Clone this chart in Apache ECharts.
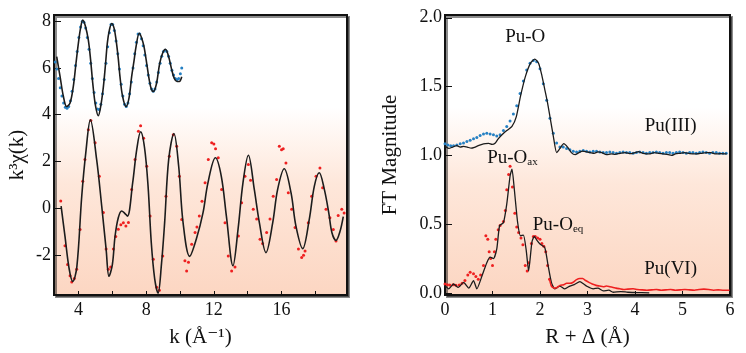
<!DOCTYPE html>
<html>
<head>
<meta charset="utf-8">
<script src="https://cdn.jsdelivr.net/npm/echarts@6/dist/echarts.min.js"></script>
<style>
  html, body { margin: 0; padding: 0; background: #fff; }
  #chart { width: 746px; height: 353px; }
</style>
</head>
<body>
<div id="chart"></div>
<script>
// ---- left panel: k^3 chi(k) ----
// Pu(III) fit (plotted with +6 offset)
const pu3FitK = [2.71, 2.91, 3.1, 3.3, 3.5, 3.69, 3.85, 3.99, 4.12, 4.25, 4.4, 4.58, 4.72, 4.84, 5.0, 5.17, 5.32, 5.47, 5.6, 5.7, 5.82, 5.96, 6.1, 6.22, 6.35, 6.45, 6.6, 6.81, 6.98, 7.14, 7.28, 7.4, 7.59, 7.72, 7.87, 8.05, 8.18, 8.3, 8.42, 8.6, 8.8, 8.98, 9.14, 9.32, 9.5, 9.66, 9.82, 9.96, 10.1];
const pu3FitV = [6.48, 5.63, 4.8, 4.35, 4.5, 5.2, 6.2, 7.05, 7.7, 8.04, 7.8, 7.19, 6.3, 5.35, 4.4, 3.96, 4.4, 5.2, 6.2, 7.05, 7.6, 7.9, 7.7, 7.19, 6.4, 5.63, 4.8, 4.35, 4.7, 5.63, 6.3, 6.91, 7.48, 7.3, 6.91, 6.1, 5.49, 5.1, 4.99, 5.3, 6.2, 6.65, 6.8, 6.5, 5.95, 5.55, 5.42, 5.42, 5.62];
// Pu(III) data points
const pu3DatK = [2.62, 2.72, 2.82, 2.92, 3.02, 3.12, 3.22, 3.32, 3.42, 3.52, 3.62, 3.72, 3.82, 3.92, 4.02, 4.12, 4.22, 4.32, 4.42, 4.52, 4.62, 4.72, 4.82, 4.92, 5.02, 5.12, 5.22, 5.32, 5.42, 5.52, 5.62, 5.72, 5.82, 5.92, 6.02, 6.12, 6.22, 6.32, 6.42, 6.52, 6.62, 6.72, 6.82, 6.92, 7.02, 7.12, 7.22, 7.32, 7.42, 7.52, 7.62, 7.72, 7.82, 7.92, 8.02, 8.12, 8.22, 8.32, 8.42, 8.52, 8.62, 8.72, 8.82, 8.92, 9.02, 9.12, 9.22, 9.32, 9.42, 9.52, 9.62, 9.72, 9.82, 9.92, 10.02, 10.1];
const pu3DatV = [6.25, 5.95, 5.55, 5.15, 4.8, 4.5, 4.32, 4.28, 4.35, 4.6, 5.0, 5.5, 6.1, 6.7, 7.3, 7.75, 7.98, 7.95, 7.7, 7.3, 6.8, 6.2, 5.55, 4.95, 4.5, 4.25, 4.22, 4.45, 4.9, 5.5, 6.2, 6.9, 7.5, 7.85, 7.85, 7.6, 7.15, 6.6, 5.95, 5.3, 4.8, 4.45, 4.35, 4.5, 4.9, 5.4, 6.0, 6.6, 7.1, 7.45, 7.45, 7.25, 6.95, 6.55, 6.1, 5.7, 5.35, 5.1, 5.0, 5.1, 5.4, 5.8, 6.2, 6.5, 6.7, 6.75, 6.7, 6.5, 6.2, 5.9, 5.7, 5.55, 5.5, 5.55, 5.75, 6.0];
// Pu(VI) fit
const pu6FitK = [2.97, 3.2, 3.45, 3.66, 3.9, 4.19, 4.43, 4.7, 5.07, 5.37, 5.63, 5.8, 6.0, 6.16, 6.35, 6.55, 6.72, 6.89, 7.2, 7.44, 7.67, 7.9, 8.11, 8.3, 8.5, 8.7, 8.9, 9.09, 9.33, 9.64, 9.92, 10.18, 10.57, 10.96, 11.36, 11.65, 12.09, 12.44, 12.74, 13.13, 13.43, 13.72, 14.04, 14.39, 14.69, 15.08, 15.48, 15.77, 16.16, 16.56, 16.85, 17.25, 17.64, 17.94, 18.23, 18.53, 18.79, 18.98, 19.22, 19.45, 19.65];
const pu6FitV = [0.1, -1.2, -2.6, -3.12, -2.5, 0.52, 2.38, 3.78, 2.09, 0.1, -1.74, -2.9, -2.4, -1.18, -0.4, -0.11, -0.2, -0.33, 1.09, 2.51, 3.27, 2.6, 0.95, -1.46, -3.0, -3.62, -2.4, -0.61, 2.09, 3.2, 1.8, -0.61, -2.05, -1.32, -0.18, 1.09, 2.16, 1.37, -0.33, -2.45, -0.89, 1.09, 2.27, 0.81, -0.61, -1.89, -0.61, 0.81, 1.69, 0.67, -0.75, -1.72, -0.47, 0.95, 1.52, 0.81, -0.18, -1.04, -1.37, -1.0, -0.35];
// Pu(VI) data points
const pu6DatK = [2.95, 3.2, 3.35, 3.5, 3.6, 3.75, 3.89, 4.09, 4.25, 4.38, 4.58, 4.73, 4.98, 5.23, 5.47, 5.63, 5.76, 5.9, 6.06, 6.2, 6.35, 6.5, 6.65, 6.8, 6.95, 7.14, 7.34, 7.54, 7.67, 7.85, 8.03, 8.23, 8.42, 8.62, 8.78, 8.98, 9.17, 9.37, 9.6, 9.8, 9.96, 10.1, 10.29, 10.39, 10.5, 10.69, 10.89, 11.0, 11.14, 11.3, 11.48, 11.67, 11.87, 12.0, 12.1, 12.26, 12.46, 12.66, 12.85, 13.05, 13.25, 13.45, 13.64, 13.84, 14.04, 14.17, 14.33, 14.53, 14.73, 14.88, 15.12, 15.32, 15.51, 15.71, 15.87, 16.0, 16.1, 16.26, 16.4, 16.6, 16.8, 17.0, 17.19, 17.3, 17.39, 17.58, 17.78, 18.04, 18.27, 18.43, 18.63, 18.86, 19.06, 19.22, 19.35, 19.56, 19.7];
const pu6DatV = [0.31, -1.6, -2.4, -2.88, -3.15, -3.0, -2.6, -0.9, 1.16, 2.09, 3.36, 3.75, 2.8, 1.37, -0.18, -1.74, -2.6, -2.5, -1.74, -1.2, -0.89, -0.7, -0.61, -0.75, -0.6, 0.81, 2.09, 3.29, 3.53, 3.0, 1.8, -0.33, -2.17, -3.37, -3.5, -2.03, 0.52, 2.23, 3.15, 2.65, 1.37, -0.47, -2.24, -2.67, -2.3, -1.53, -1.03, -0.8, -0.33, 0.3, 1.09, 2.09, 2.8, 2.75, 2.55, 2.16, 0.81, -0.61, -2.03, -2.67, -2.5, -1.18, 0.24, 1.37, 1.87, 1.2, -0.04, -0.45, -1.32, -1.5, -1.03, -0.45, 0.52, 1.23, 2.65, 2.5, 2.55, 1.94, 0.67, -0.04, -0.82, -1.74, -2.1, -2.0, -1.82, -0.61, 0.52, 1.37, 1.73, 0.88, -0.04, -0.4, -0.9, -1.39, -0.3, -0.04, -0.2];

// ---- right panel: FT magnitude ----
const pu3FtFitR = [0, 0.08, 0.16, 0.25, 0.32, 0.39, 0.47, 0.55, 0.62, 0.7, 0.78, 0.85, 0.92, 0.99, 1.06, 1.12, 1.2, 1.3, 1.41, 1.5, 1.59, 1.69, 1.8, 1.89, 1.97, 2.04, 2.1, 2.16, 2.21, 2.28, 2.35, 2.42, 2.5, 2.58, 2.66, 2.74, 2.82, 2.9, 2.98, 3.06, 3.14, 3.22, 3.3, 3.4, 3.5, 3.58, 3.68, 3.8, 3.9, 4.0, 4.07, 4.17, 4.3, 4.4, 4.5, 4.6, 4.7, 4.77, 4.85, 4.95, 5.04, 5.15, 5.3, 5.4, 5.5, 5.6, 5.7, 5.8, 5.93];
const pu3FtFitV = [1.067, 1.05, 1.06, 1.07, 1.06, 1.065, 1.06, 1.052, 1.058, 1.07, 1.08, 1.085, 1.087, 1.08, 1.09, 1.12, 1.15, 1.18, 1.21, 1.28, 1.43, 1.57, 1.67, 1.7, 1.67, 1.58, 1.48, 1.38, 1.28, 1.14, 1.02, 1.05, 1.085, 1.06, 1.02, 1.005, 1.02, 1.03, 1.025, 1.02, 1.015, 1.025, 1.02, 1.005, 1.01, 1.007, 1.015, 1.02, 1.012, 1.02, 1.027, 1.015, 1.01, 1.02, 1.015, 1.01, 1.005, 1.0, 1.01, 1.015, 1.02, 1.012, 1.01, 1.015, 1.02, 1.02, 1.01, 1.012, 1.01];
const pu3FtDatR = [0.0, 0.06, 0.12, 0.18, 0.25, 0.32, 0.39, 0.46, 0.53, 0.6, 0.67, 0.74, 0.81, 0.88, 0.95, 1.02, 1.09, 1.16, 1.23, 1.3, 1.37, 1.44, 1.51, 1.58, 1.65, 1.72, 1.79, 1.86, 1.93, 2.0, 2.07, 2.14, 2.21, 2.28, 2.35, 2.42, 2.49, 2.56, 2.63, 2.7, 2.77, 2.84, 2.91, 2.98, 3.05, 3.12, 3.19, 3.26, 3.33, 3.4, 3.47, 3.54, 3.61, 3.68, 3.75, 3.82, 3.89, 3.96, 4.03, 4.1, 4.17, 4.24, 4.31, 4.38, 4.45, 4.52, 4.59, 4.66, 4.73, 4.8, 4.87, 4.94, 5.01, 5.08, 5.15, 5.22, 5.29, 5.36, 5.43, 5.5, 5.57, 5.64, 5.71, 5.78, 5.85, 5.92];
const pu3FtDatV = [1.085, 1.075, 1.07, 1.07, 1.075, 1.085, 1.09, 1.1, 1.11, 1.12, 1.13, 1.145, 1.155, 1.16, 1.155, 1.15, 1.14, 1.15, 1.18, 1.21, 1.25, 1.3, 1.36, 1.45, 1.54, 1.62, 1.67, 1.69, 1.68, 1.63, 1.52, 1.4, 1.27, 1.16, 1.09, 1.06, 1.06, 1.05, 1.04, 1.03, 1.025, 1.03, 1.035, 1.03, 1.025, 1.03, 1.03, 1.025, 1.02, 1.02, 1.025, 1.02, 1.015, 1.02, 1.025, 1.02, 1.02, 1.015, 1.02, 1.025, 1.02, 1.015, 1.02, 1.02, 1.025, 1.02, 1.015, 1.02, 1.02, 1.015, 1.02, 1.025, 1.02, 1.015, 1.02, 1.02, 1.015, 1.02, 1.025, 1.02, 1.015, 1.02, 1.02, 1.015, 1.015, 1.015];
const pu6FtFitR = [0, 0.08, 0.18, 0.28, 0.39, 0.5, 0.6, 0.67, 0.78, 0.88, 0.95, 1.02, 1.09, 1.15, 1.23, 1.3, 1.37, 1.41, 1.46, 1.53, 1.59, 1.65, 1.71, 1.76, 1.83, 1.88, 1.94, 2.0, 2.1, 2.17, 2.24, 2.31, 2.42, 2.52, 2.63, 2.72, 2.84, 2.92, 2.98, 3.12, 3.22, 3.33, 3.45, 3.54, 3.7, 3.85, 4.0, 4.3];
const pu6FtFitV = [0.053, 0.03, 0.065, 0.04, 0.077, 0.035, 0.09, 0.03, 0.125, 0.22, 0.26, 0.25, 0.32, 0.49, 0.51, 0.645, 0.85, 0.9, 0.75, 0.51, 0.415, 0.42, 0.31, 0.16, 0.37, 0.41, 0.38, 0.355, 0.33, 0.2, 0.077, 0.03, 0.05, 0.03, 0.05, 0.06, 0.082, 0.065, 0.05, 0.03, 0.035, 0.015, 0.02, 0.005, 0.01, 0.005, 0.003, 0.0];
const pu6FtDatR = [0.0, 0.05, 0.1, 0.17, 0.23, 0.3, 0.36, 0.42, 0.48, 0.53, 0.6, 0.65, 0.7, 0.75, 0.81, 0.86, 0.9, 0.93, 0.96, 1.0, 1.04, 1.07, 1.12, 1.16, 1.23, 1.27, 1.3, 1.34, 1.37, 1.42, 1.47, 1.51, 1.55, 1.6, 1.64, 1.69, 1.73, 1.76, 1.82, 1.86, 1.9, 1.95, 2.0, 2.04, 2.08, 2.12, 2.16, 2.2];
const pu6FtDatV = [0.065, 0.06, 0.058, 0.06, 0.055, 0.058, 0.07, 0.09, 0.13, 0.15, 0.14, 0.12, 0.1, 0.13, 0.2, 0.415, 0.39, 0.3, 0.25, 0.2, 0.3, 0.39, 0.46, 0.49, 0.52, 0.6, 0.75, 0.86, 0.92, 0.77, 0.58, 0.48, 0.44, 0.4, 0.35, 0.2, 0.16, 0.22, 0.36, 0.41, 0.41, 0.4, 0.39, 0.36, 0.34, 0.3, 0.2, 0.1];
const pu6FtTailR = [2.2, 2.24, 2.3, 2.36, 2.42, 2.5, 2.56, 2.63, 2.7, 2.76, 2.84, 2.9, 2.96, 3.04, 3.1, 3.18, 3.26, 3.33, 3.4, 3.47, 3.54, 3.6, 3.68, 3.76, 3.85, 3.96, 4.05, 4.15, 4.25, 4.35, 4.45, 4.55, 4.65, 4.75, 4.85, 4.95, 5.05, 5.15, 5.25, 5.35, 5.45, 5.55, 5.65, 5.75, 5.85, 5.99];
const pu6FtTailV = [0.1, 0.05, 0.035, 0.04, 0.055, 0.06, 0.07, 0.07, 0.078, 0.095, 0.105, 0.105, 0.09, 0.075, 0.065, 0.055, 0.05, 0.045, 0.05, 0.045, 0.04, 0.035, 0.03, 0.025, 0.028, 0.03, 0.025, 0.022, 0.02, 0.022, 0.025, 0.02, 0.022, 0.025, 0.02, 0.022, 0.025, 0.022, 0.02, 0.025, 0.028, 0.025, 0.02, 0.022, 0.02, 0.02];

// annotations in the FT panel
const noteText = ['{m|Pu-O}', '{m|Pu(III)}', '{m|Pu-O}{s|ax}', '{m|Pu-O}{s|eq}', '{m|Pu(VI)}'];
const noteR = [1.69, 4.75, 1.42, 2.38, 4.75];
const noteV = [1.86, 1.22, 0.985, 0.5, 0.174];

const kTicks = [4, 6, 8, 10, 12, 14, 16, 18];
const kLabels = [4, 8, 12, 16];
const chiTicks = [-2, 0, 2, 4, 6, 8];
const ftTicks = [0, 0.5, 1, 1.5, 2];

const serif = '"Liberation Serif", "DejaVu Serif", serif';
const zip = (a, b) => a.map((v, i) => [v, b[i]]);

const chart = echarts.init(document.getElementById('chart'));

const bg = new echarts.graphic.LinearGradient(0, 0, 0, 1, [
  { offset: 0, color: '#ffffff' },
  { offset: 0.33, color: '#ffffff' },
  { offset: 0.6, color: '#fee7da' },
  { offset: 1, color: '#fcd6c2' },
]);

const gridBase = {
  show: true,
  top: 15,
  height: 281,
  borderColor: '#111',
  borderWidth: 2,
  backgroundColor: bg,
  shadowColor: 'rgba(0,0,0,0.45)',
  shadowOffsetX: 2,
  shadowOffsetY: 2,
};

const axisCommon = {
  type: 'value',
  splitLine: { show: false },
  axisLine: { show: true, onZero: false, lineStyle: { color: '#111', width: 2 } },
  axisLabel: { fontFamily: serif, fontSize: 18, color: '#111' },
  nameLocation: 'middle',
  nameTextStyle: { fontFamily: serif, fontSize: 21, color: '#111' },
};

const lineSeries = (x, y, k, v, color, width) => ({
  type: 'line',
  xAxisIndex: x,
  yAxisIndex: y,
  data: zip(k, v),
  smooth: 0.35,
  showSymbol: false,
  lineStyle: { color: color, width: width },
  silent: true,
});

const dotSeries = (x, y, k, v, color, size) => ({
  type: 'scatter',
  xAxisIndex: x,
  yAxisIndex: y,
  data: zip(k, v),
  symbol: 'circle',
  symbolSize: size,
  itemStyle: { color: color, opacity: 1 },
  silent: true,
});

const option = {
  animation: false,
  backgroundColor: '#fff',
  grid: [
    Object.assign({ left: 54, width: 293 }, gridBase),
    Object.assign({ left: 445, width: 285 }, gridBase),
  ],
  xAxis: [
    Object.assign({}, axisCommon, {
      gridIndex: 0,
      min: 2.55,
      max: 19.87,
      axisTick: { inside: true, length: 4, customValues: kTicks, lineStyle: { color: '#111' } },
      axisLabel: Object.assign({}, axisCommon.axisLabel, { customValues: kLabels, margin: 6 }),
      name: 'k (Å⁻¹)',
      nameGap: 32,
    }),
    Object.assign({}, axisCommon, {
      gridIndex: 1,
      min: 0,
      max: 6,
      interval: 1,
      axisTick: { inside: true, length: 4, lineStyle: { color: '#111' } },
      axisLabel: Object.assign({}, axisCommon.axisLabel, { margin: 6 }),
      name: 'R + Δ (Å)',
      nameGap: 32,
    }),
  ],
  yAxis: [
    Object.assign({}, axisCommon, {
      gridIndex: 0,
      min: -3.7,
      max: 8.26,
      axisTick: { inside: true, length: 7, customValues: chiTicks, lineStyle: { color: '#111' } },
      axisLabel: Object.assign({}, axisCommon.axisLabel, { customValues: chiTicks, margin: 3 }),
      name: 'k³χ(k)',
      nameGap: 26,
    }),
    Object.assign({}, axisCommon, {
      gridIndex: 1,
      min: -0.015,
      max: 2.02,
      axisTick: { inside: true, length: 7, customValues: ftTicks, lineStyle: { color: '#111' } },
      axisLabel: Object.assign({}, axisCommon.axisLabel, {
        customValues: ftTicks,
        margin: 3,
        formatter: (v) => v.toFixed(1),
      }),
      name: 'FT Magnitude',
      nameGap: 44,
    }),
  ],
  series: [
    lineSeries(0, 0, pu3FitK, pu3FitV, '#1c1c1c', 1.6),
    dotSeries(0, 0, pu3DatK, pu3DatV, '#2580c3', 3),
    lineSeries(0, 0, pu6FitK, pu6FitV, '#1c1c1c', 1.6),
    dotSeries(0, 0, pu6DatK, pu6DatV, '#ee2020', 3),

    Object.assign(lineSeries(1, 1, pu3FtFitR, pu3FtFitV, '#1c1c1c', 1.3), { smooth: 0.2 }),
    dotSeries(1, 1, pu3FtDatR, pu3FtDatV, '#2580c3', 3),
    Object.assign(lineSeries(1, 1, pu6FtFitR, pu6FtFitV, '#1c1c1c', 1.3), { smooth: 0.2 }),
    dotSeries(1, 1, pu6FtDatR, pu6FtDatV, '#ee2020', 3),
    Object.assign(lineSeries(1, 1, pu6FtTailR, pu6FtTailV, '#ee2020', 1.6), { smooth: 0.2 }),
    {
      type: 'scatter',
      xAxisIndex: 1,
      yAxisIndex: 1,
      symbolSize: 0,
      silent: true,
      itemStyle: { opacity: 1 },
      data: noteR.map((r, i) => [r, noteV[i], noteText[i]]),
      label: {
        show: true,
        position: 'inside',
        color: '#111',
        textBorderWidth: 0,
        formatter: (p) => p.data[2],
        rich: {
          m: { fontFamily: serif, fontSize: 19, color: '#111', textBorderWidth: 0, lineHeight: 20, verticalAlign: 'bottom' },
          s: { fontFamily: serif, fontSize: 11, color: '#111', textBorderWidth: 0, lineHeight: 12, verticalAlign: 'bottom' },
        },
      },
    },
  ],
};

chart.setOption(option);
</script>
</body>
</html>
